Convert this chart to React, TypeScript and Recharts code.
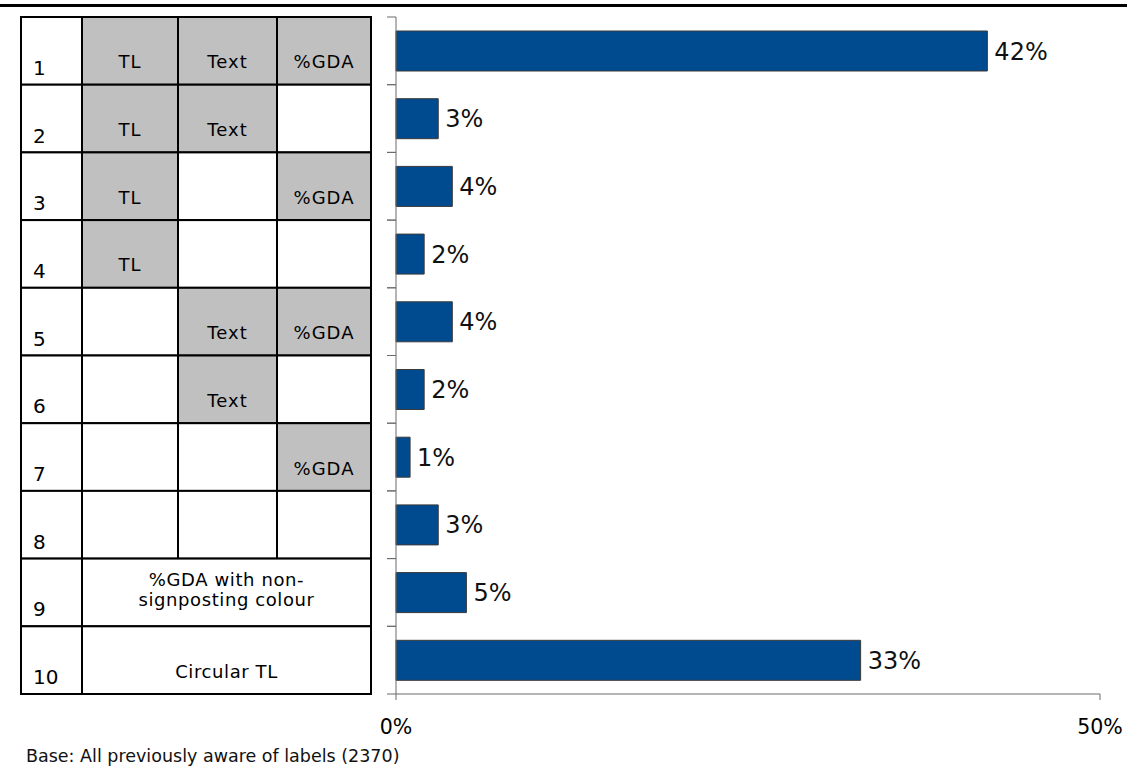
import React from "react";
import { BarChart, Bar, XAxis, YAxis, LabelList } from "recharts";

const rowLabels = ["1", "2", "3", "4", "5", "6", "7", "8", "9", "10"];
const shares = [42, 3, 4, 2, 4, 2, 1, 3, 5, 33];
const tlColumn = ["TL", "TL", "TL", "TL", "", "", "", ""];
const textColumn = ["Text", "Text", "", "", "Text", "Text", "", ""];
const gdaColumn = ["%GDA", "", "%GDA", "", "%GDA", "", "%GDA", ""];
const mergedRows: Record<number, string[]> = {
  8: ["%GDA with non-", "signposting colour"],
  9: ["Circular TL"],
};
const xTicks = [0, 50];
const footnote = "Base: All previously aware of labels (2370)";

const W = 1127;
const H = 767;
const MARGIN = { top: 17, right: 27, bottom: 23, left: 21 };
const Y_AXIS_W = 375;
const X_AXIS_H = 50;
const AXIS_X = MARGIN.left + Y_AXIS_W;
const BAND = (H - MARGIN.top - MARGIN.bottom - X_AXIS_H) / rowLabels.length;
const COLS = [21, 82, 178, 277, 371];

const FONT = "DejaVu Sans, Verdana, sans-serif";
const GREY = "#C0C0C0";
const AXIS = "#6a6a6a";

const data = rowLabels.map((row, i) => ({ row, share: shares[i] }));

// each y-axis tick draws one row of the left-hand table
function TableRow(props: any) {
  const { y, payload } = props;
  const i: number = payload.index ?? rowLabels.indexOf(payload.value);
  const half = typeof payload.offset === "number" && payload.offset > 0 ? payload.offset : BAND / 2;
  const top = y - half;
  const h = half * 2;
  const base = y + 17.5;
  const cells: React.ReactNode[] = [];

  cells.push(
    <rect key="n" x={COLS[0]} y={top} width={COLS[1] - COLS[0]} height={h} fill="#fff" stroke="#000" strokeWidth={2} />
  );
  cells.push(
    <text key="nt" x={33} y={y + 24} fontSize={20} fontFamily={FONT} fill="#000">
      {payload.value}
    </text>
  );

  const merged = mergedRows[i];
  if (merged) {
    cells.push(
      <rect key="m" x={COLS[1]} y={top} width={COLS[4] - COLS[1]} height={h} fill="#fff" stroke="#000" strokeWidth={2} />
    );
    const cx = (COLS[1] + COLS[4]) / 2;
    const startY = merged.length > 1 ? y - 6 : base;
    merged.forEach((line, k) => {
      cells.push(
        <text
          key={"ml" + k}
          x={cx}
          y={startY + k * 20}
          textAnchor="middle"
          fontSize={18}
          letterSpacing={0.6}
          fontFamily={FONT}
          fill="#000"
        >
          {line}
        </text>
      );
    });
  } else {
    [tlColumn[i], textColumn[i], gdaColumn[i]].forEach((label, c) => {
      const x0 = COLS[c + 1];
      const x1 = COLS[c + 2];
      cells.push(
        <rect
          key={"c" + c}
          x={x0}
          y={top}
          width={x1 - x0}
          height={h}
          fill={label ? GREY : "#fff"}
          stroke="#000"
          strokeWidth={2}
        />
      );
      if (label) {
        cells.push(
          <text
            key={"t" + c}
            x={(x0 + x1) / 2}
            y={base}
            textAnchor="middle"
            fontSize={18}
            letterSpacing={1}
            fontFamily={FONT}
            fill="#000"
          >
            {label}
          </text>
        );
      }
    });
  }

  cells.push(<line key="tt" x1={AXIS_X - 9} x2={AXIS_X} y1={top} y2={top} stroke={AXIS} strokeWidth={1} />);
  cells.push(<line key="tb" x1={AXIS_X - 9} x2={AXIS_X} y1={top + h} y2={top + h} stroke={AXIS} strokeWidth={1} />);

  return <g>{cells}</g>;
}

function PercentTick(props: any) {
  const { x, y, payload } = props;
  return (
    <text x={x} y={y + 32} textAnchor="middle" fontSize={20.5} fontFamily={FONT} fill="#000">
      {`${payload.value}%`}
    </text>
  );
}

export default function App() {
  return (
    <div style={{ position: "absolute", left: 0, top: 0, width: W, height: H, background: "#fff", fontFamily: FONT }}>
      <div style={{ position: "absolute", left: 0, top: 4, width: W, height: 3, background: "#000" }} />
      <BarChart width={W} height={H} data={data} layout="vertical" margin={MARGIN}>
        <XAxis
          type="number"
          domain={[0, 50]}
          ticks={xTicks}
          height={X_AXIS_H}
          axisLine={{ stroke: AXIS, strokeWidth: 1 }}
          tickLine={{ stroke: AXIS, strokeWidth: 1 }}
          tickSize={6}
          tick={<PercentTick />}
        />
        <YAxis
          type="category"
          dataKey="row"
          width={Y_AXIS_W}
          axisLine={{ stroke: AXIS, strokeWidth: 1 }}
          tickLine={false}
          tick={<TableRow />}
          interval={0}
        />
        <Bar dataKey="share" fill="#004A8F" stroke="#3a3a3a" strokeWidth={1} barSize={40} isAnimationActive={false}>
          <LabelList
            dataKey="share"
            position="right"
            offset={7}
            formatter={(v: any) => `${v}%`}
            style={{ fontSize: 24, fontFamily: FONT, fill: "#111" }}
          />
        </Bar>
      </BarChart>
      <div
        style={{
          position: "absolute",
          left: 26,
          top: 746,
          fontSize: 17.5,
          lineHeight: "20px",
          color: "#111",
          whiteSpace: "nowrap",
        }}
      >
        {footnote}
      </div>
    </div>
  );
}
